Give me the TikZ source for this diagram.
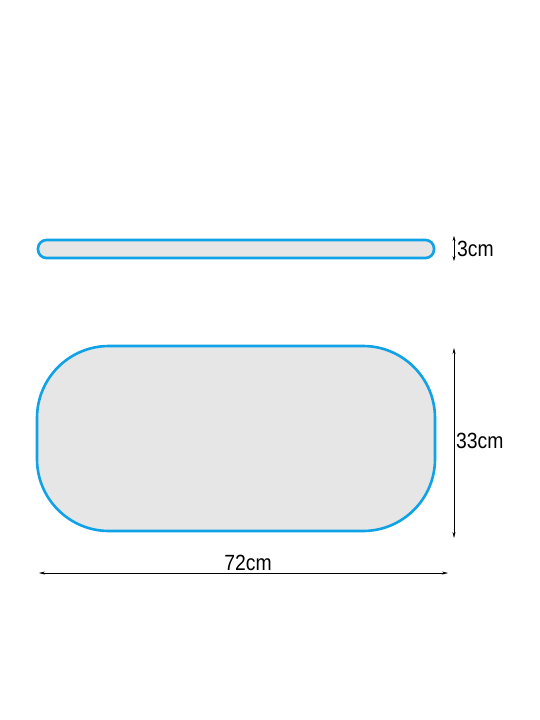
\documentclass[tikz,border=0pt]{standalone}
\usepackage{fontspec}
\setmainfont{Liberation Sans}
\usetikzlibrary{arrows.meta}
\definecolor{matblue}{RGB}{15,162,230}
\definecolor{matgray}{RGB}{230,230,230}

\begin{document}
\begin{tikzpicture}[x=1pt,y=-1pt,
					dim line/.style={{Stealth[length=6pt,width=3pt]}-{Stealth[length=6pt,width=3pt]},thin},
					dim label/.style={font=\fontsize{22}{22}\selectfont,inner sep=1pt,xscale=0.88},
					mat/.style={draw=matblue,fill=matgray,line width=2.6pt,inner sep=0pt}]

  \useasboundingbox (0,0) rectangle (540,720);

  % side view
  \node[mat,rounded corners=8.5pt,minimum width=396pt,minimum height=18pt] (side) at (236,249) {};
  \coordinate (sidetop) at (454,236);
  \coordinate (sidebot) at (454,261);
  \draw[thin,{Stealth[length=5pt,width=3pt]}-{Stealth[length=5pt,width=3pt]}] (sidetop) -- (sidebot);
  \node[dim label,anchor=west] (thick) at (456,249) {3cm};

  % top view
  \node[mat,rounded corners=72pt,minimum width=398pt,minimum height=185pt] (top) at (236,438.5) {};
  \coordinate (htop) at (454,348);
  \coordinate (hbot) at (454,538);
  \draw[dim line] (htop) -- (hbot);
  \node[dim label,anchor=west] (height) at (455,441) {33cm};

  \coordinate (wleft) at (39,573);
  \coordinate (wright) at (448,573);
  \draw[dim line] (wleft) -- (wright);
  \node[dim label,anchor=south] (width) at (248,571.5) {72cm};
\end{tikzpicture}
\end{document}
